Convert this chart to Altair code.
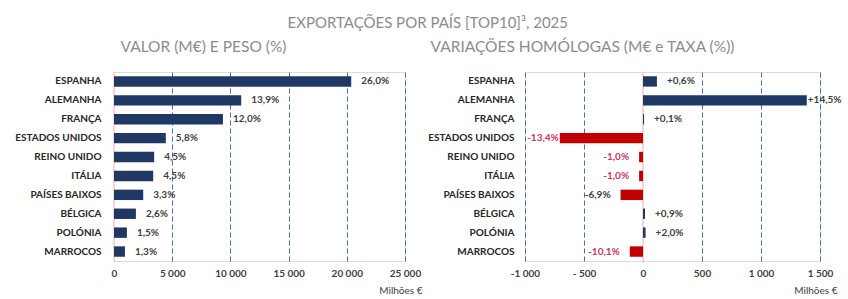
import altair as alt
import pandas as pd

countries = ["ESPANHA", "ALEMANHA", "FRANÇA", "ESTADOS UNIDOS", "REINO UNIDO",
             "ITÁLIA", "PAÍSES BAIXOS", "BÉLGICA", "POLÓNIA", "MARROCOS"]
valor = [20380, 10930, 9360, 4450, 3450, 3370, 2510, 1880, 1110, 940]
peso = [26.0, 13.9, 12.0, 5.8, 4.5, 4.5, 3.3, 2.6, 1.5, 1.3]
variacao = [118, 1388, 9, -705, -33, -33, -190, 17, 22, -112]
taxa = [0.6, 14.5, 0.1, -13.4, -1.0, -1.0, -6.9, 0.9, 2.0, -10.1]

left_ticks = [0, 5000, 10000, 15000, 20000, 25000]
left_tick_labels = ["0", "5 000", "10 000", "15 000", "20 000", "25 000"]
right_ticks = [-1000, -500, 0, 500, 1000, 1500]
right_tick_labels = ["-1 000", "- 500", "0", "500", "1 000", "1 500"]

dark_neg_labels = ["PAÍSES BAIXOS"]
tight_labels = ["ALEMANHA", "ESTADOS UNIDOS"]

def pct(v, sign=False):
    s = f"{abs(v):.1f}".replace(".", ",") + "%"
    if sign:
        s = ("+" if v >= 0 else "-") + s
    return s

df = pd.DataFrame({
    "pais": countries,
    "valor": valor,
    "peso_lbl": [pct(v) for v in peso],
    "var": variacao,
    "taxa_lbl": [pct(v, True) for v in taxa],
    "dark": [c in dark_neg_labels for c in countries],
    "tight": [c in tight_labels for c in countries],
})

FONT = "Lato"
NAVY = "#203864"
RED = "#C00000"
RED_TXT = "#C8375D"
GRID = "#4A6BA6"
ZERO = "#F9D3D6"
TXT = "#262626"
GRAY = "#8C8C8C"

def lbl_expr(ticks, labels):
    e = " : ".join(f"datum.value == {t} ? '{l}'" for t, l in zip(ticks, labels))
    return e + " : ''"

H = 189

def x_axis(ticks, labels, w):
    return alt.Axis(values=ticks, labelExpr=lbl_expr(ticks, labels), grid=True,
                    gridDash=[5, 3], gridColor=GRID, gridWidth=1, domain=False,
                    ticks=False, labelFont=FONT, labelFontSize=10, labelFontWeight="bold",
                    labelColor="#404040", labelPadding=7, title="Milhões €",
                    titleFont=FONT, titleFontSize=10, titleFontWeight="normal",
                    titleColor="#404040", titleX=w + 17, titleY=29, titleAlign="right",
                    titleBaseline="middle", labelFlush=False)

def y_axis(pad):
    return alt.Axis(title=None, domain=False, ticks=False, labelFont=FONT,
                    labelFontSize=10, labelFontWeight="bold", labelColor=TXT,
                    labelPadding=pad, minExtent=100, maxExtent=100)

yscale = alt.Scale(paddingInner=0.45, paddingOuter=0.225)

# Left panel
WL = 291
bl = alt.Chart(df).encode(
    y=alt.Y("pais:N", sort=countries, scale=yscale, axis=y_axis(13)))
zero_l = alt.Chart(df).mark_rule(color=ZERO, strokeWidth=2).encode(x=alt.datum(0))
bars_l = bl.mark_bar(color=NAVY).encode(
    x=alt.X("valor:Q", scale=alt.Scale(domain=[0, 25000], nice=False),
            axis=x_axis(left_ticks, left_tick_labels, WL)))
text_l = bl.mark_text(align="left", dx=10, font=FONT, fontSize=10, fontWeight="bold",
                      color="#404040").encode(x="valor:Q", text="peso_lbl:N")
left = alt.layer(zero_l, bars_l, text_l).properties(
    width=WL, height=H,
    title=alt.TitleParams("VALOR (M€) E PESO (%)", font=FONT, fontSize=15.5,
                          fontWeight="normal", color=GRAY, anchor="middle", dx=-56,
                          offset=16))

# Right panel
WR = 295
br = alt.Chart(df).encode(
    y=alt.Y("pais:N", sort=countries, scale=yscale, axis=y_axis(11)))
zero_r = alt.Chart(df).mark_rule(color=ZERO, strokeWidth=2).encode(x=alt.datum(0))
bars_r = br.mark_bar().encode(
    x=alt.X("var:Q", scale=alt.Scale(domain=[-1000, 1500], nice=False),
            axis=x_axis(right_ticks, right_tick_labels, WR)),
    x2=alt.datum(0),
    color=alt.condition(alt.datum.var > 0, alt.value(NAVY), alt.value(RED)))
txt_kw = dict(font=FONT, fontSize=10, fontWeight="bold")
pos_txt = br.mark_text(align="left", dx=10, color="#404040", **txt_kw).encode(
    x="var:Q", text="taxa_lbl:N").transform_filter(
    (alt.datum.var > 0) & (~alt.datum.tight))
pos_tight = br.mark_text(align="left", dx=1, color="#404040", **txt_kw).encode(
    x="var:Q", text="taxa_lbl:N").transform_filter(
    (alt.datum.var > 0) & alt.datum.tight)
neg_txt = br.mark_text(align="right", dx=-10, **txt_kw).encode(
    x="var:Q", text="taxa_lbl:N",
    color=alt.condition(alt.datum.dark, alt.value("#404040"), alt.value(RED_TXT))
).transform_filter((alt.datum.var <= 0) & (~alt.datum.tight))
neg_tight = br.mark_text(align="right", dx=-1, **txt_kw).encode(
    x="var:Q", text="taxa_lbl:N",
    color=alt.condition(alt.datum.dark, alt.value("#404040"), alt.value(RED_TXT))
).transform_filter((alt.datum.var <= 0) & alt.datum.tight)
right = alt.layer(zero_r, bars_r, pos_txt, pos_tight, neg_txt, neg_tight).properties(
    width=WR, height=H,
    title=alt.TitleParams("VARIAÇÕES HOMÓLOGAS (M€ e TAXA (%))", font=FONT, fontSize=15.5,
                          fontWeight="normal", color=GRAY, anchor="middle", dx=-90,
                          offset=16))

chart = alt.hconcat(left, right, spacing=1).properties(
    title=alt.TitleParams("EXPORTAÇÕES POR PAÍS [TOP10]³, 2025", font=FONT, fontSize=15,
                          fontWeight="normal", color=GRAY, anchor="middle", offset=8),
    padding={"left": 13, "top": 16, "right": 2, "bottom": 1},
).configure_view(stroke=None).configure(background="white")

chart.save("out.html", embed_options={"renderer": "svg", "actions": False})
